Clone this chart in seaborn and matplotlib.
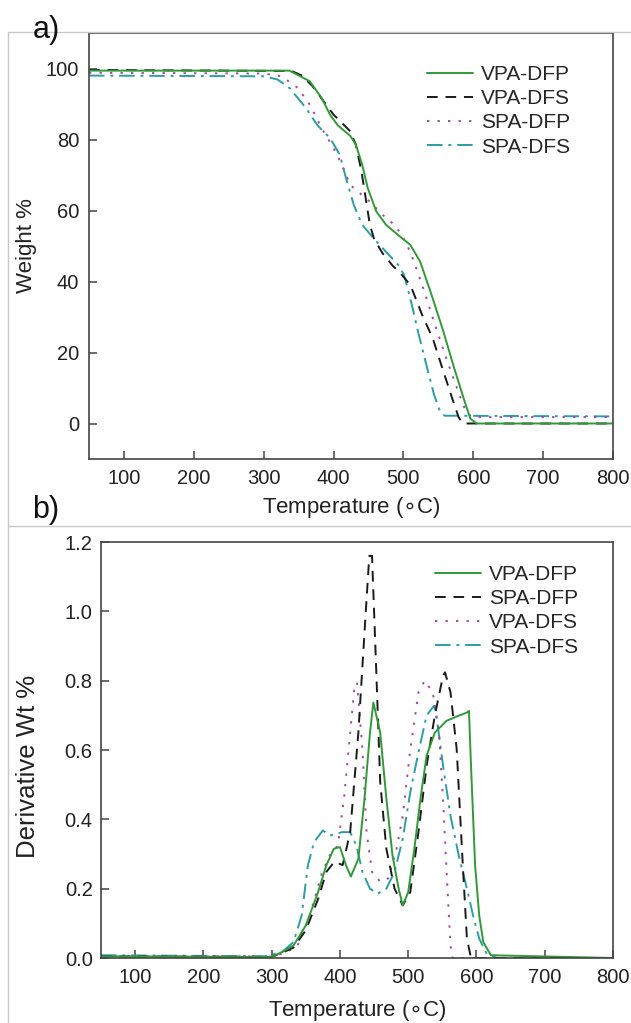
import matplotlib
matplotlib.use("Agg")
import matplotlib.pyplot as plt
import numpy as np
import pandas as pd
import seaborn as sns
from matplotlib.lines import Line2D

# ---- panel a) weight loss (TGA) ----
tga_vpa_dfp_T = [50, 337, 366, 383, 395, 406, 424, 432, 441, 449, 461, 475, 493, 510, 524, 539, 556, 573, 588, 596, 605, 800]
tga_vpa_dfp_W = [99.4, 99.4, 96.4, 91.7, 87.0, 84.0, 81.0, 78.5, 72.9, 66.3, 59.8, 56.0, 53.0, 50.3, 45.6, 37.0, 26.7, 15.4, 6.0, 1.3, 0.0, 0.0]

tga_vpa_dfs_T = [50, 340, 355, 370, 385, 400, 424, 432, 440, 446, 452, 458, 470, 484, 498, 510, 527, 542, 556, 570, 579, 585, 800]
tga_vpa_dfs_W = [99.6, 99.3, 98.0, 95.0, 91.0, 87.0, 82.3, 78.5, 71.0, 63.5, 56.0, 52.0, 48.0, 44.6, 41.8, 39.0, 30.5, 24.0, 15.4, 7.0, 1.8, 0.0, 0.0]

tga_spa_dfp_T = [50, 300, 326, 349, 366, 383, 400, 412, 424, 435, 452, 470, 487, 498, 510, 527, 544, 562, 579, 590, 599, 800]
tga_spa_dfp_W = [98.8, 98.6, 97.8, 94.5, 89.8, 83.2, 77.6, 72.9, 67.2, 65.3, 62.5, 58.8, 56.0, 53.0, 48.3, 39.0, 28.5, 18.0, 8.7, 3.0, 1.8, 1.8]

tga_spa_dfs_T = [50, 300, 320, 337, 360, 377, 395, 409, 418, 429, 441, 458, 475, 493, 501, 510, 521, 533, 544, 553, 559, 800]
tga_spa_dfs_W = [98.0, 97.8, 96.9, 94.5, 89.0, 84.0, 80.4, 75.7, 69.0, 61.6, 56.0, 52.0, 48.4, 44.6, 41.8, 35.2, 25.8, 16.4, 8.0, 3.2, 2.2, 2.0]

# ---- panel b) derivative weight (DTG) ----
dtg_vpa_dfp_T = [50, 300, 315, 332, 350, 368, 380, 391, 400, 409, 416, 427, 436, 444, 449, 459, 468, 477, 486, 492, 500, 509, 518, 527, 539, 556, 574, 586, 589, 592, 598, 604, 610, 621, 800]
dtg_vpa_dfp_D = [0.005, 0.003, 0.017, 0.036, 0.094, 0.19, 0.267, 0.315, 0.32, 0.267, 0.235, 0.286, 0.46, 0.65, 0.737, 0.65, 0.46, 0.296, 0.2, 0.152, 0.19, 0.315, 0.46, 0.584, 0.65, 0.684, 0.699, 0.708, 0.713, 0.555, 0.267, 0.123, 0.046, 0.008, 0.0]

dtg_spa_dfp_T = [50, 300, 315, 332, 350, 368, 380, 392, 404, 415, 427, 436, 443, 447, 453, 459, 468, 480, 492, 503, 515, 527, 539, 551, 554, 562, 571, 580, 586, 592, 800]
dtg_spa_dfp_D = [0.005, 0.003, 0.015, 0.03, 0.08, 0.17, 0.248, 0.278, 0.268, 0.363, 0.65, 0.94, 1.16, 1.16, 0.84, 0.507, 0.315, 0.2, 0.152, 0.19, 0.363, 0.555, 0.7, 0.814, 0.824, 0.766, 0.603, 0.267, 0.056, 0.0, 0.0]

dtg_vpa_dfs_T = [50, 300, 320, 338, 356, 374, 385, 397, 406, 415, 421, 425, 433, 439, 447, 459, 471, 483, 492, 503, 515, 524, 536, 545, 551, 557, 562, 565, 800]
dtg_vpa_dfs_D = [0.005, 0.004, 0.015, 0.036, 0.123, 0.248, 0.296, 0.325, 0.46, 0.65, 0.776, 0.795, 0.6, 0.363, 0.248, 0.22, 0.23, 0.315, 0.41, 0.6, 0.766, 0.8, 0.766, 0.65, 0.46, 0.22, 0.036, 0.0, 0.0]

dtg_spa_dfs_T = [50, 290, 315, 332, 344, 353, 362, 375, 385, 403, 415, 424, 433, 444, 455, 468, 480, 492, 503, 515, 527, 538, 542, 551, 562, 574, 586, 595, 604, 615, 630, 800]
dtg_spa_dfs_D = [0.008, 0.005, 0.017, 0.046, 0.123, 0.267, 0.334, 0.368, 0.353, 0.363, 0.363, 0.325, 0.248, 0.2, 0.185, 0.2, 0.248, 0.344, 0.478, 0.593, 0.7, 0.728, 0.69, 0.555, 0.41, 0.296, 0.2, 0.123, 0.056, 0.012, 0.0, 0.0]

top_labels = ["VPA-DFP", "VPA-DFS", "SPA-DFP", "SPA-DFS"]
bottom_labels = ["VPA-DFP", "SPA-DFP", "VPA-DFS", "SPA-DFS"]

GREEN = "#2f9a36"
BLACK = "#1a1a1a"
PURPLE = "#a548a8"
TEAL = "#2a9ea6"
styles = [
    dict(color=GREEN, linestyle="-"),
    dict(color=BLACK, linestyle=(0, (5.5, 4))),
    dict(color=PURPLE, linestyle=(0, (1.2, 4.2))),
    dict(color=TEAL, linestyle=(0, (8, 3, 1.5, 3))),
]

sns.set_style("ticks")
plt.rcParams["font.family"] = ["Liberation Sans", "DejaVu Sans"]
plt.rcParams["mathtext.fontset"] = "dejavusans"

W, H = 631, 1023
fig = plt.figure(figsize=(W / 100, H / 100), dpi=100)
fig.patch.set_facecolor("white")


def px_axes(left, top, right, bottom):
    return fig.add_axes([left / W, 1 - bottom / H, (right - left) / W, (bottom - top) / H])


ax1 = px_axes(89, 33, 613, 459)
ax2 = px_axes(101, 542, 613, 958)

top_series = [
    (tga_vpa_dfp_T, tga_vpa_dfp_W),
    (tga_vpa_dfs_T, tga_vpa_dfs_W),
    (tga_spa_dfp_T, tga_spa_dfp_W),
    (tga_spa_dfs_T, tga_spa_dfs_W),
]
bottom_series = [
    (dtg_vpa_dfp_T, dtg_vpa_dfp_D),
    (dtg_spa_dfp_T, dtg_spa_dfp_D),
    (dtg_vpa_dfs_T, dtg_vpa_dfs_D),
    (dtg_spa_dfs_T, dtg_spa_dfs_D),
]

for ax, series, labels in [(ax1, top_series, top_labels), (ax2, bottom_series, bottom_labels)]:
    # draw in reverse so the green solid line sits on top
    for (x, y), lab, st in reversed(list(zip(series, labels, styles))):
        sns.lineplot(x=x, y=y, ax=ax, label=lab, linewidth=1.4, color=st["color"],
                     linestyle=st["linestyle"], legend=False)

for ax in (ax1, ax2):
    ax.set_xlim(50, 800)
    ax.set_xticks([100, 200, 300, 400, 500, 600, 700, 800])
    ax.tick_params(direction="in", length=6, width=1.1, color="#444444",
                   labelsize=14.5, pad=7, top=False, right=False, labelcolor="#222222")
    for sp in ax.spines.values():
        sp.set_color("#444444")
        sp.set_linewidth(1.2)
    ax.set_xlabel("Temperature ($\\circ$C)", fontsize=16, color="#222222")
    handles, labs = ax.get_legend_handles_labels()
    order = [labs.index(l) for l in (top_labels if ax is ax1 else bottom_labels)]
    anchor = (0.645, 0.925) if ax is ax1 else (0.652, 0.945)
    ax.legend([handles[i] for i in order], [labs[i] for i in order], loc="upper left",
              bbox_to_anchor=anchor, frameon=False, fontsize=15, handlelength=2.2,
              handletextpad=0.4, labelspacing=0.25, borderpad=0, borderaxespad=0)

ax1.set_ylim(-10, 110)
ax1.set_yticks([0, 20, 40, 60, 80, 100])
ax1.set_ylabel("Weight %", fontsize=16, color="#222222")
ax1.yaxis.set_label_coords(-0.10, 0.5)
ax1.xaxis.set_label_coords(0.5, -0.085)

ax2.set_ylim(0, 1.2)
ax2.set_yticks([0.0, 0.2, 0.4, 0.6, 0.8, 1.0, 1.2])
ax2.set_yticklabels(["0.0", "0.2", "0.4", "0.6", "0.8", "1.0", "1.2"])
ax2.tick_params(axis="y", pad=6)
ax2.set_ylabel("Derivative Wt %", fontsize=18.5, color="#222222")
ax2.yaxis.set_label_coords(-0.12, 0.46)
ax2.xaxis.set_label_coords(0.5, -0.097)

# panel frame lines and letters
grey = "#c8c8c8"
fig.add_artist(Line2D([8 / W, 1], [1 - 32 / H, 1 - 32 / H], color=grey, lw=1, transform=fig.transFigure))
fig.add_artist(Line2D([8 / W, 1], [1 - 526 / H, 1 - 526 / H], color=grey, lw=1, transform=fig.transFigure))
fig.add_artist(Line2D([8 / W, 8 / W], [1 - 32 / H, 0], color=grey, lw=1, transform=fig.transFigure))
fig.text(46 / W, 1 - 30 / H, "a)", fontsize=22, ha="center", va="center", color="#111111")
fig.text(46 / W, 1 - 510 / H, "b)", fontsize=22, ha="center", va="center", color="#111111")

fig.savefig("out.png", dpi=100, facecolor="white")
